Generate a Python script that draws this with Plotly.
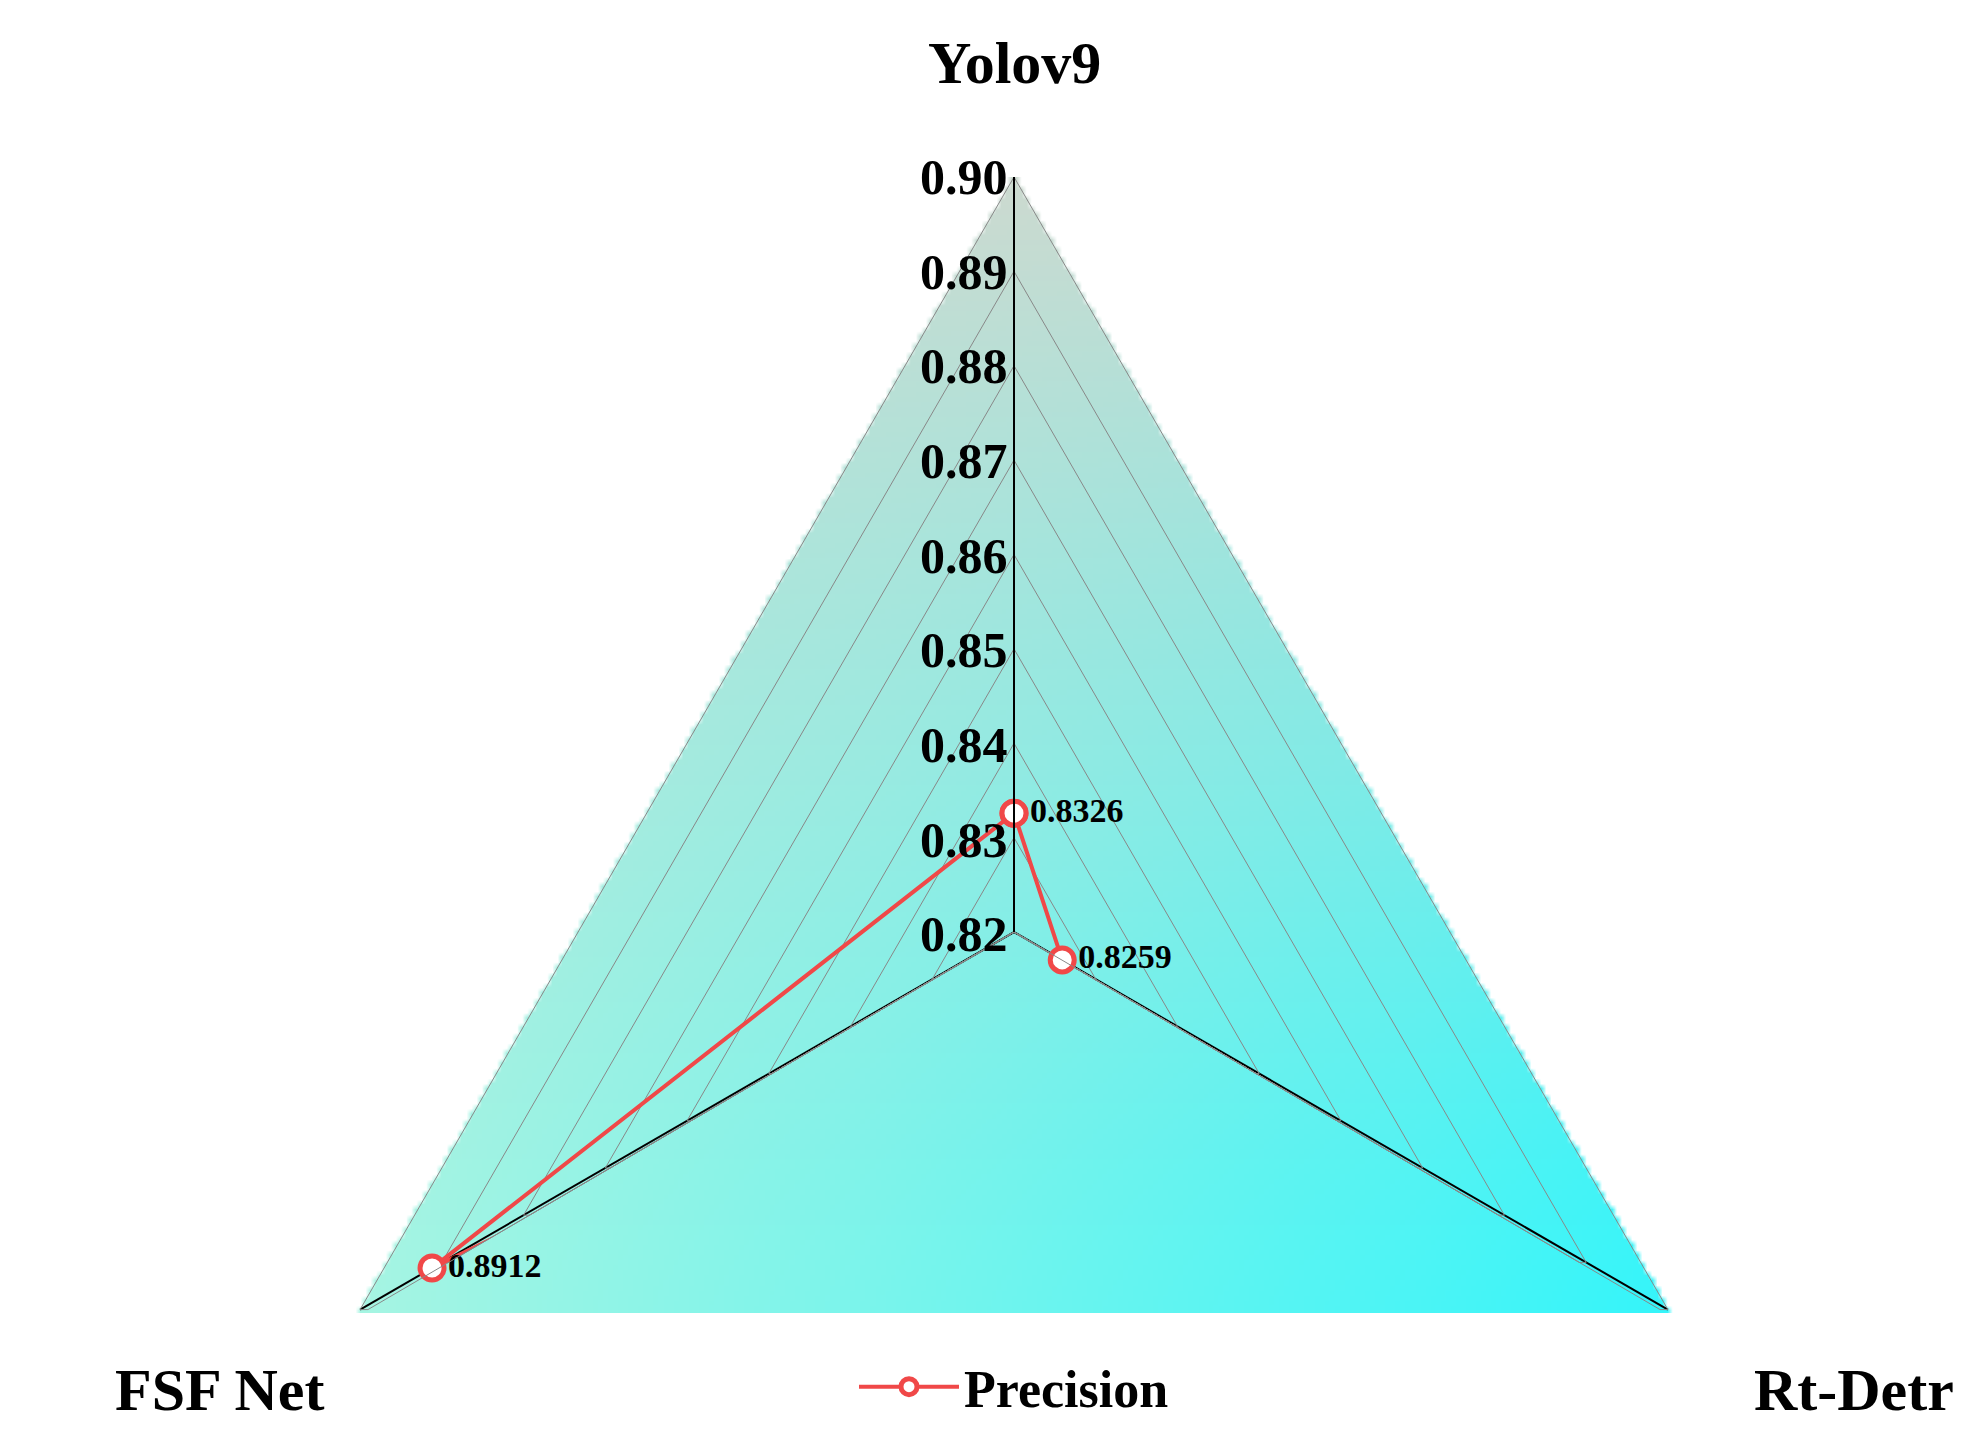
import base64
import struct
import zlib
import plotly.graph_objects as go

models = ["Yolov9", "FSF Net", "Rt-Detr"]
precision = [0.8326, 0.8912, 0.8259]
tick_vals = [0.82, 0.83, 0.84, 0.85, 0.86, 0.87, 0.88, 0.89, 0.90]
r_min, r_max = 0.82, 0.90


def gradient_png(w, h):
    # triangle-shaped gradient background, transparent outside the triangle
    gray = (205, 218, 208)
    mint = (175, 245, 225)
    cyan = (45, 245, 252)
    rows = []
    for j in range(h):
        v = j / (h - 1)
        row = bytearray([0])
        for i in range(w):
            u = i / (w - 1)
            inside = abs(u - 0.5) <= 0.433 * v + 0.002
            k = (1 - v) ** 1.3
            c = []
            for a, b, g in zip(mint, cyan, gray):
                base = a + (b - a) * u
                c.append(int(base + (g - base) * k))
            row += bytes(c + [255 if inside else 0])
        rows.append(bytes(row))
    raw = b"".join(rows)

    def chunk(t, d):
        return struct.pack(">I", len(d)) + t + d + struct.pack(">I", zlib.crc32(t + d) & 0xffffffff)

    png = b"\x89PNG\r\n\x1a\n" + chunk(b"IHDR", struct.pack(">IIBBBBB", w, h, 8, 6, 0, 0, 0))
    png += chunk(b"IDAT", zlib.compress(raw, 9)) + chunk(b"IEND", b"")
    return "data:image/png;base64," + base64.b64encode(png).decode()


font = "Times New Roman, Liberation Serif, serif"

fig = go.Figure()
fig.add_trace(go.Scatterpolar(
    r=precision + [precision[0]], theta=models + [models[0]],
    mode="lines+markers+text",
    text=[f"{p:.4f}" for p in precision] + [""],
    textposition="middle right",
    textfont=dict(family=font, size=34, color="black", weight="bold"),
    line=dict(color="#f04848", width=4),
    marker=dict(size=24, color="white", line=dict(color="#f04848", width=5)),
    name="Precision",
    cliponaxis=False,
))

# radial tick labels, horizontal, left of the vertical axis
annotations = []
for t in tick_vals:
    annotations.append(dict(
        x=0.5, y=1 / 3 + (t - r_min) / (r_max - r_min) * 2 / 3,
        xref="paper", yref="paper", xanchor="right", yanchor="middle",
        text=f"{t:.2f}", showarrow=False, xshift=-4,
        font=dict(family=font, size=50, color="black", weight="bold")))

# category labels
for name, x, y, xa in [("Yolov9", 0.5, 1.1, "center"),
                       ("FSF Net", -0.025, -0.068, "center"),
                       ("Rt-Detr", 1.055, -0.068, "center")]:
    annotations.append(dict(
        x=x, y=y, xref="paper", yref="paper", xanchor=xa, yanchor="middle",
        text=name, showarrow=False,
        font=dict(family=font, size=60, color="black", weight="bold")))

fig.update_layout(
    width=1987, height=1439,
    margin=dict(l=249, r=224, t=169, b=134),
    paper_bgcolor="white",
    font=dict(family=font, color="black"),
    polar=dict(
        domain=dict(x=[0, 1], y=[0, 1]),
        sector=[-30.3, 210.3],
        gridshape="linear",
        bgcolor="rgba(0,0,0,0)",
        radialaxis=dict(
            range=[r_min, r_max], tickvals=tick_vals,
            showticklabels=False, angle=90,
            showline=True, linecolor="black", linewidth=2,
            gridcolor="#888888", gridwidth=1, ticks="",
        ),
        angularaxis=dict(
            rotation=90, direction="counterclockwise",
            linecolor="#888888", linewidth=1,
            gridcolor="black", gridwidth=2, ticks="",
            showticklabels=False,
        ),
    ),
    annotations=annotations,
    images=[dict(source=gradient_png(300, 225), xref="paper", yref="paper",
                 x=0, y=1, sizex=1, sizey=1, sizing="stretch", layer="below")],
    showlegend=True,
    legend=dict(x=0.5, y=-0.065, xanchor="center", yanchor="middle",
                bgcolor="rgba(0,0,0,0)", itemwidth=100,
                font=dict(family=font, size=52, color="black", weight="bold")),
)

fig.write_html("out.html")
